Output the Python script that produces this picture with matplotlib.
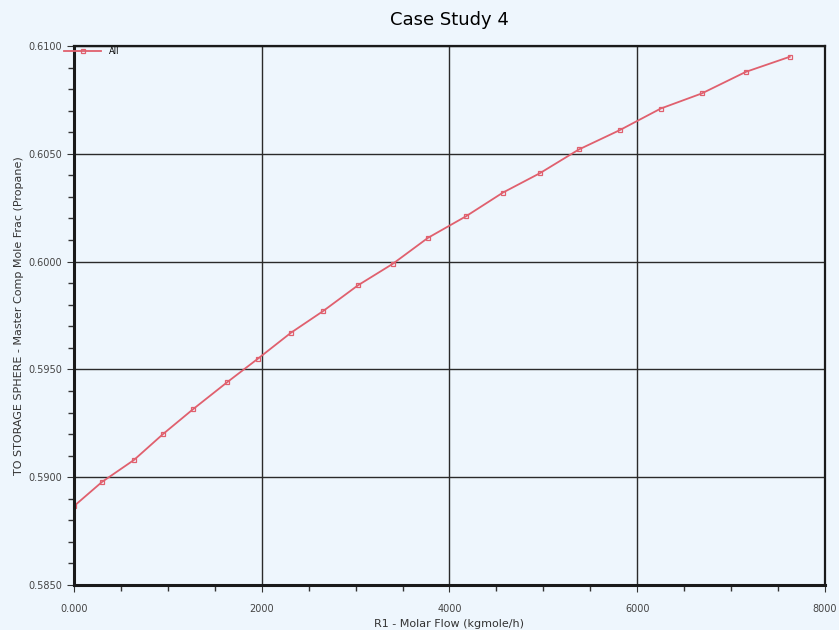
import matplotlib
matplotlib.use("Agg")
import matplotlib.pyplot as plt
from matplotlib.ticker import MultipleLocator, FixedLocator

# R1 molar flow (kgmole/h) vs propane mole fraction to storage sphere
flow = [0, 298, 639, 948, 1267, 1630, 1960, 2311, 2652, 3025, 3397,
        3770, 4175, 4569, 4963, 5378, 5815, 6251, 6688, 7157, 7625]
frac = [0.58866, 0.58978, 0.5908, 0.5920, 0.59315, 0.5944, 0.5955, 0.5967,
        0.5977, 0.5989, 0.5999, 0.6011, 0.6021, 0.6032, 0.6041, 0.6052,
        0.6061, 0.6071, 0.6078, 0.6088, 0.6095]
xticks = [0, 2000, 4000, 6000, 8000]
xlabels = ["0.000", "2000", "4000", "6000", "8000"]
yticks = [0.5850, 0.5900, 0.5950, 0.6000, 0.6050, 0.6100]
ylabels = ["0.5850", "0.5900", "0.5950", "0.6000", "0.6050", "0.6100"]

BG = "#eef6fd"
fig = plt.figure(figsize=(8.39, 6.30), dpi=100, facecolor=BG)
ax = fig.add_axes([0.0882, 0.0714, 0.8951, 0.8556], facecolor=BG)

ax.plot(flow, frac, "-s", color="#e0606e", lw=1.3, ms=3.5, mfc="none", mew=0.9, label="All")

ax.set_xlim(0, 8000); ax.set_ylim(0.5850, 0.6100)
ax.xaxis.set_major_locator(FixedLocator(xticks)); ax.set_xticklabels(xlabels)
ax.yaxis.set_major_locator(FixedLocator(yticks)); ax.set_yticklabels(ylabels)
ax.xaxis.set_minor_locator(MultipleLocator(500))
ax.yaxis.set_minor_locator(MultipleLocator(0.001))
ax.tick_params(which="major", length=5, width=0.8, labelsize=7, colors="#333333", labelcolor="#444444")
ax.tick_params(axis="x", which="major", pad=9)
ax.tick_params(which="minor", length=4, width=1.0, colors="#333333")
ax.grid(True, which="major", color="#2a2a2a", lw=1.0)
for s in ax.spines.values():
    s.set_linewidth(1.6); s.set_color("#1a1a1a")
ax.spines["left"].set_linewidth(2.2); ax.spines["bottom"].set_linewidth(2.2)

ax.set_title("Case Study 4", fontsize=13, pad=15)
ax.set_xlabel("R1 - Molar Flow (kgmole/h)", fontsize=8, color="#333333", labelpad=3)
ax.set_ylabel("TO STORAGE SPHERE - Master Comp Mole Frac (Propane)", fontsize=8, color="#333333", labelpad=3)
ax.legend(loc="upper left", bbox_to_anchor=(-0.018, 1.005), frameon=False, fontsize=6,
          handlelength=4.5, handletextpad=0.9, borderaxespad=0)

fig.savefig("out.png", dpi=100, facecolor=BG)
